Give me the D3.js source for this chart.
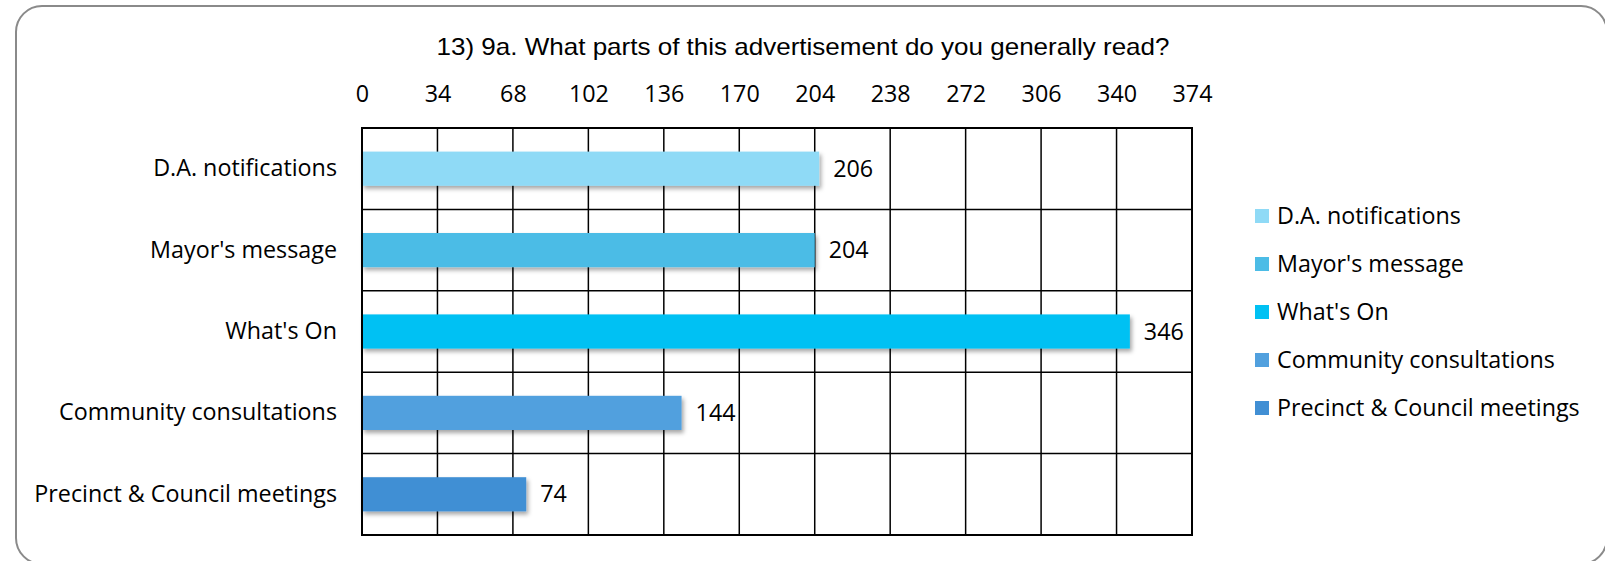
<!DOCTYPE html>
<html>
<head>
<meta charset="utf-8">
<script src="https://cdn.jsdelivr.net/npm/d3@7"></script>
<style>
  body { margin: 0; background: #fff; }
  svg { display: block; }
</style>
</head>
<body>
<svg id="chart" width="1605" height="561"></svg>
<script>
// chart data
const categories = ["D.A. notifications", "Mayor's message", "What's On", "Community consultations", "Precinct & Council meetings"];
const values = [206, 204, 346, 144, 74];
const barColors = ["#8fdaf6", "#4cbce6", "#00c1f3", "#51a0de", "#418fd4"];
const tickValues = [0, 34, 68, 102, 136, 170, 204, 238, 272, 306, 340, 374];
const title = "13) 9a. What parts of this advertisement do you generally read?";

const svg = d3.select("#chart");
const labelFont = "'Open Sans', 'Noto Sans', sans-serif";
const labelSize = 23.3;

// plot area
let plotLeft = 362, plotRight = 1192, plotTop = 128, plotBottom = 535;

let xScale = d3.scaleLinear()
  .domain([0, 374])
  .range([plotLeft, plotRight]);
let yScale = d3.scaleBand()
  .domain(categories)
  .range([plotTop, plotBottom])
  .padding(0);
let color = d3.scaleOrdinal().domain(categories).range(barColors);

// drop shadow for the bars
let defs = svg.append("defs");
defs.append("filter")
  .attr("id", "shadow")
  .attr("x", "-5%").attr("y", "-30%")
  .attr("width", "110%").attr("height", "180%")
  .append("feDropShadow")
  .attr("dx", 2).attr("dy", 3)
  .attr("stdDeviation", 2)
  .attr("flood-color", "#000")
  .attr("flood-opacity", 0.35);

// outer rounded frame
svg.append("rect")
  .attr("x", 16).attr("y", 6)
  .attr("width", 1591).attr("height", 558)
  .attr("rx", 26)
  .attr("fill", "#fff")
  .attr("stroke", "#8a8a8a")
  .attr("stroke-width", 2);

// title
svg.append("text")
  .attr("x", 803).attr("y", 55)
  .attr("text-anchor", "middle")
  .attr("font-family", "'Liberation Sans', Arial, sans-serif")
  .attr("font-size", 24)
  .attr("textLength", 733)
  .attr("lengthAdjust", "spacingAndGlyphs")
  .attr("fill", "#000")
  .text(title);

// gridlines
let grid = svg.append("g");
grid.selectAll("line.v")
  .data(tickValues.slice(1, -1))
  .enter().append("line")
  .attr("x1", d => xScale(d)).attr("x2", d => xScale(d))
  .attr("y1", plotTop).attr("y2", plotBottom)
  .attr("stroke", "#000").attr("stroke-width", 1.5);
grid.selectAll("line.h")
  .data(categories.slice(1))
  .enter().append("line")
  .attr("x1", plotLeft).attr("x2", plotRight)
  .attr("y1", d => yScale(d)).attr("y2", d => yScale(d))
  .attr("stroke", "#000").attr("stroke-width", 1.5);

// top axis labels
let xAxis = d3.axisTop(xScale)
  .tickValues(tickValues)
  .tickSize(0)
  .tickPadding(0)
  .tickFormat(d3.format("d"));
svg.append("g")
  .attr("transform", "translate(0,102)")
  .call(xAxis)
  .call(g => g.select(".domain").remove())
  .selectAll("text")
  .attr("font-family", labelFont)
  .attr("font-size", labelSize)
  .attr("fill", "#000");

// category labels
let yAxis = d3.axisLeft(yScale).tickSize(0).tickPadding(0);
svg.append("g")
  .attr("transform", "translate(" + (plotLeft - 25) + ",0)")
  .call(yAxis)
  .call(g => g.select(".domain").remove())
  .selectAll("text")
  .attr("font-family", labelFont)
  .attr("font-size", labelSize)
  .attr("fill", "#000");

// bars
let barH = yScale.bandwidth() * 0.42;
svg.append("g")
  .selectAll("rect")
  .data(categories)
  .enter().append("rect")
  .attr("x", xScale(0))
  .attr("y", d => yScale(d) + (yScale.bandwidth() - barH) / 2)
  .attr("width", (d, i) => xScale(values[i]) - xScale(0))
  .attr("height", barH)
  .attr("fill", d => color(d))
  .attr("filter", "url(#shadow)");

// value labels
svg.append("g")
  .selectAll("text")
  .data(categories)
  .enter().append("text")
  .attr("x", (d, i) => xScale(values[i]) + 14)
  .attr("y", d => yScale(d) + yScale.bandwidth() / 2)
  .attr("dy", "0.35em")
  .attr("font-family", labelFont)
  .attr("font-size", labelSize)
  .attr("fill", "#000")
  .text((d, i) => values[i]);

// plot border
svg.append("rect")
  .attr("x", plotLeft).attr("y", plotTop)
  .attr("width", plotRight - plotLeft).attr("height", plotBottom - plotTop)
  .attr("fill", "none")
  .attr("stroke", "#000")
  .attr("stroke-width", 2);

// legend
let legend = svg.append("g")
  .selectAll("g")
  .data(categories)
  .enter().append("g")
  .attr("transform", (d, i) => "translate(1255," + (216 + i * 48) + ")");
legend.append("rect")
  .attr("x", 0).attr("y", -7)
  .attr("width", 14).attr("height", 14)
  .attr("fill", d => color(d));
legend.append("text")
  .attr("x", 22).attr("y", 0)
  .attr("dy", "0.35em")
  .attr("font-family", labelFont)
  .attr("font-size", labelSize)
  .attr("fill", "#000")
  .text(d => d);
</script>
</body>
</html>
